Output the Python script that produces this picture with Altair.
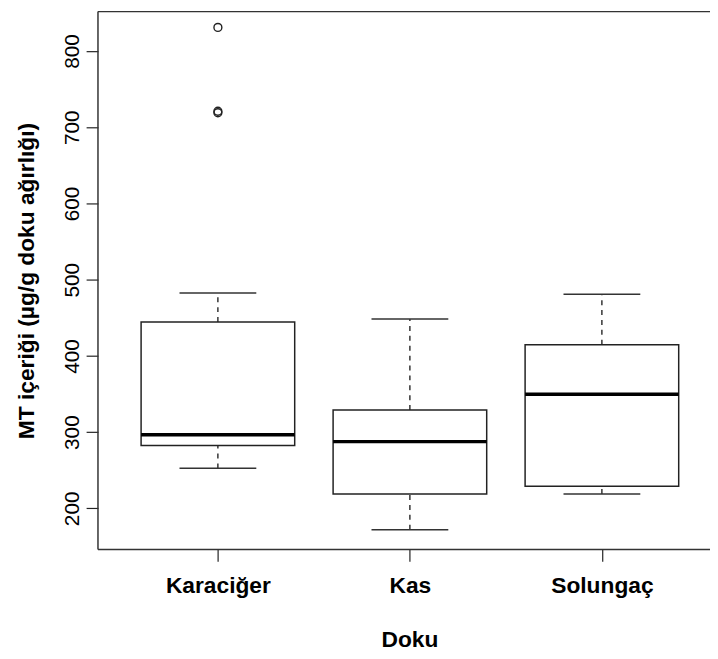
import altair as alt
import pandas as pd

categories = ["Karaciğer", "Kas", "Solungaç"]
positions = [1, 2, 3]
lower_whisker = [252.5, 172.0, 218.8]
q1 = [282.4, 218.8, 229.0]
median = [296.6, 287.5, 349.8]
q3 = [444.5, 329.0, 414.7]
upper_whisker = [482.5, 448.4, 480.8]

outlier_cat = ["Karaciğer", "Karaciğer", "Karaciğer"]
outlier_val = [831.0, 721.0, 719.0]

y_ticks = [200, 300, 400, 500, 600, 700, 800]

df = pd.DataFrame({
    "cat": categories, "pos": positions, "lo": lower_whisker, "q1": q1,
    "med": median, "q3": q3, "hi": upper_whisker,
})
df["left"] = df["pos"] - 0.4
df["right"] = df["pos"] + 0.4
df["cl"] = df["pos"] - 0.2
df["cr"] = df["pos"] + 0.2

pos_map = dict(zip(categories, positions))
out = pd.DataFrame({"cat": outlier_cat, "val": outlier_val})
out["pos"] = out["cat"].map(pos_map)

label_expr = " : ".join(
    [f"datum.value == {p} ? '{c}'" for p, c in zip(positions, categories)]
) + " : ''"

W, H = 619, 544
FONT = "Liberation Sans"
xscale = alt.Scale(domain=[0.3754, 3.563], nice=False, zero=False)
yscale = alt.Scale(domain=[146, 851.7], nice=False, zero=False)

xaxis = alt.Axis(
    values=positions, labelExpr=label_expr, title="Doku", grid=False, domain=False,
    tickSize=12, tickColor="#222", tickWidth=1.2,
    labelFont=FONT, labelFontSize=23, labelFontWeight="bold", labelColor="#000",
    labelPadding=14, labelFlush=False,
    titleFont=FONT, titleFontSize=23, titleFontWeight="bold", titleColor="#000",
    titleX=315, titleY=98, titleBaseline="alphabetic", titleAlign="center", titleAnchor="start",
)
yaxis = alt.Axis(
    values=y_ticks, title="MT içeriği (µg/g doku ağırlığı)", grid=False, domain=False,
    tickSize=12, tickColor="#222", tickWidth=1.2,
    labelFont=FONT, labelFontSize=21, labelColor="#000", labelAngle=270,
    labelAlign="center", labelBaseline="alphabetic", labelPadding=8,
    titleFont=FONT, titleFontSize=23, titleFontWeight="bold", titleColor="#000",
    titleAngle=270, titleX=-72, titleBaseline="middle",
)

base = alt.Chart(df)

whisk_up = base.mark_rule(color="#000", strokeWidth=1.2, strokeDash=[5, 5]).encode(
    x=alt.X("pos:Q", scale=xscale, axis=xaxis),
    y=alt.Y("q3:Q", scale=yscale, axis=yaxis),
    y2="hi:Q",
)
whisk_lo = base.mark_rule(color="#000", strokeWidth=1.2, strokeDash=[5, 5]).encode(
    x="pos:Q", y="lo:Q", y2="q1:Q",
)
cap_hi = base.mark_rule(color="#333", strokeWidth=1.5).encode(
    x="cl:Q", x2="cr:Q", y="hi:Q",
)
cap_lo = base.mark_rule(color="#333", strokeWidth=1.5).encode(
    x="cl:Q", x2="cr:Q", y="lo:Q",
)
box = base.mark_bar(fill="white", stroke="#222", strokeWidth=1.5).encode(
    x="left:Q", x2="right:Q", y="q1:Q", y2="q3:Q",
)
med = base.mark_rule(color="#000", strokeWidth=3.5).encode(
    x="left:Q", x2="right:Q", y="med:Q",
)
pts = alt.Chart(out).mark_point(
    shape="circle", filled=False, color="#222", size=64, strokeWidth=1.4, opacity=1
).encode(x="pos:Q", y="val:Q")

frame_src = alt.Chart(pd.DataFrame({"f": [0]}))
frame_top = frame_src.mark_rule(color="#333", strokeWidth=1.5).encode(
    x=alt.value(0), x2=alt.value(W + 5), y=alt.value(0))
frame_left = frame_src.mark_rule(color="#333", strokeWidth=1.5).encode(
    x=alt.value(0), y=alt.value(0), y2=alt.value(H))
frame_bottom = frame_src.mark_rule(color="#333", strokeWidth=1.5).encode(
    x=alt.value(0), x2=alt.value(W + 5), y=alt.value(H))

chart = alt.layer(
    whisk_up, whisk_lo, cap_hi, cap_lo, box, med, pts,
    frame_top, frame_left, frame_bottom,
).properties(
    width=W, height=H,
    autosize=alt.AutoSizeParams(type="none"),
    padding={"left": 91, "top": 0, "right": 0, "bottom": 99},
).configure_view(strokeWidth=0)

chart.save("out.html", embed_options={"renderer": "svg", "actions": False})
